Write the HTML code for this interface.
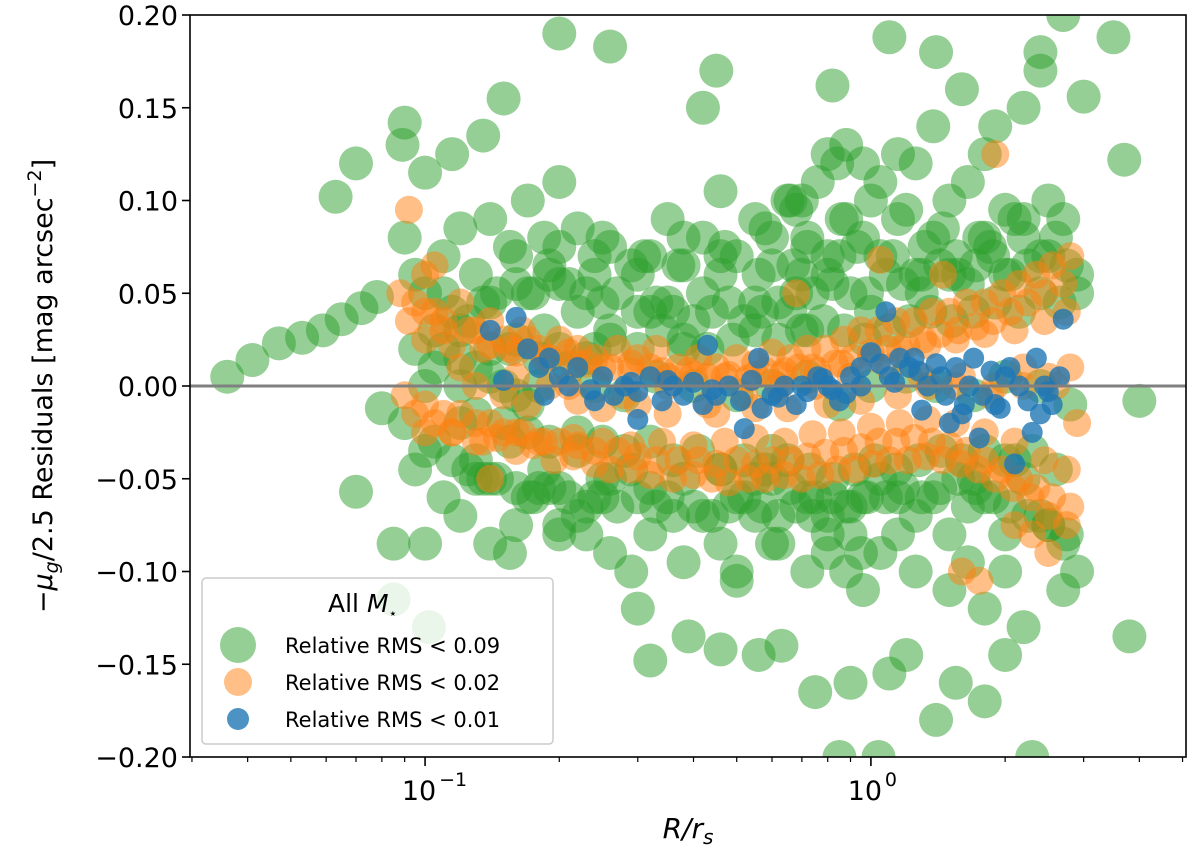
<!DOCTYPE html>
<html><head><meta charset="utf-8"><style>
body{margin:0;background:#fff;}
svg text{font-family:"DejaVu Sans","Liberation Sans",sans-serif;}
</style></head><body>
<svg id="chart" width="1200" height="856" viewBox="0 0 1200 856" xmlns="http://www.w3.org/2000/svg">
<defs><clipPath id="pc"><rect x="190" y="15" width="996" height="742"/></clipPath></defs>
<g id="marks" clip-path="url(#pc)"></g>
<g id="axes"></g>
</svg>
<script>
const greenR=[0.036,0.041,0.047,0.053,0.059,0.065,0.072,0.078,0.063,0.07,0.09,0.089,0.1,0.115,0.15,0.2,0.26,0.135,0.08,0.07,0.085,0.102,0.3,0.32,0.39,0.46,0.5,0.56,0.63,0.75,0.85,1.04,0.9,1.1,1.2,1.4,1.55,1.8,2.0,2.3,3.8,4.0,3.7,3.5,3.0,2.7,2.4,1.9,1.6,1.4,1.1,0.82,0.65,0.45,0.42,
0.09,0.09,0.1,0.1,0.1,0.11,0.11,0.11,0.12,0.12,0.12,0.12,0.13,0.13,0.13,0.14,0.14,0.14,0.14,0.155,0.155,0.155,0.155,0.17,0.17,0.17,0.17,0.185,0.185,0.185,0.2,0.2,0.2,0.2,0.22,0.22,0.22,0.22,0.24,0.24,0.24,0.26,0.26,0.26,0.26,0.29,0.29,0.29,0.32,0.32,0.32,0.32,0.35,0.35,0.35,0.38,0.38,0.38,0.38,0.42,0.42,0.42,0.46,0.46,0.46,0.46,0.5,0.5,0.5,0.55,0.55,0.55,0.55,0.6,0.6,0.6,0.6,0.66,0.66,0.66,0.72,0.72,0.72,0.72,0.8,0.8,0.8,0.8,0.88,0.88,0.88,0.88,0.96,0.96,0.96,0.96,1.05,1.05,1.05,1.05,1.15,1.15,1.15,1.15,1.26,1.26,1.26,1.26,1.38,1.38,1.38,1.5,1.5,1.5,1.5,1.65,1.65,1.65,1.65,1.8,1.8,1.8,1.8,2.0,2.0,2.0,2.0,2.2,2.2,2.2,2.2,2.4,2.4,2.4,2.7,2.7,2.7,2.9,2.9,2.9,0.75,0.85,0.95,1.3,1.0,0.7,2.5,2.1,1.7,0.6,0.25,0.18,
0.095,0.105,0.115,0.125,0.135,0.145,0.16,0.175,0.19,0.21,0.23,0.25,0.27,0.3,0.33,0.36,0.4,0.44,0.48,0.52,0.57,0.62,0.68,0.74,0.82,0.9,0.98,1.08,1.18,1.3,1.43,1.57,1.72,1.88,2.05,2.25,2.5,2.75,
0.095,0.105,0.115,0.125,0.135,0.145,0.16,0.175,0.19,0.21,0.23,0.25,0.27,0.3,0.33,0.36,0.4,0.44,0.48,0.52,0.57,0.62,0.68,0.74,0.82,0.9,0.98,1.08,1.18,1.3,1.43,1.57,1.72,1.88,2.05,2.25,2.5,2.75,
0.1,0.12,0.14,0.16,0.18,0.2,0.23,0.26,0.3,0.34,0.38,0.43,0.49,0.55,0.62,0.7,0.78,0.87,0.97,1.1,1.22,1.36,1.52,1.7,1.9,2.15,2.4,2.65,
0.11,0.13,0.15,0.17,0.19,0.22,0.25,0.28,0.32,0.36,0.41,0.46,0.52,0.58,0.65,0.73,0.82,0.92,1.02,1.14,1.28,1.44,1.6,1.8,2.0,2.3,2.6,
0.13,0.16,0.2,0.25,0.31,0.38,0.47,0.58,0.72,0.86,1.0,1.2,1.45,1.75,2.1,2.5,0.68,0.76,0.84,0.7,0.8,0.62,0.9,0.16,0.2,0.23,
0.085,0.095,0.105,0.12,0.14,0.16,0.18,0.21,0.24,0.28,0.33,0.4,0.5,0.6,0.72,0.85,1.0,1.2,1.4,1.7,2.0,2.4,2.8,
0.15,0.19,0.24,0.3,0.37,0.46,0.56,0.67,0.8,0.93,1.12,1.32,1.55,1.85,2.2,2.6];
const greenRes=[0.005,0.014,0.023,0.026,0.03,0.036,0.042,0.048,0.102,0.12,0.142,0.13,0.115,0.125,0.155,0.19,0.183,0.135,-0.012,-0.057,-0.115,-0.13,-0.12,-0.148,-0.135,-0.142,-0.105,-0.145,-0.14,-0.165,-0.2,-0.2,-0.16,-0.155,-0.145,-0.18,-0.16,-0.17,-0.145,-0.2,-0.135,-0.008,0.122,0.188,0.156,0.2,0.18,0.14,0.16,0.18,0.188,0.162,0.1,0.17,0.15,
0.08,-0.02,0.05,0.0,-0.035,0.07,0.02,-0.06,0.085,0.03,-0.02,-0.07,0.06,-0.04,0.01,0.09,0.045,-0.05,-0.085,0.075,0.02,-0.03,-0.09,0.1,0.05,-0.06,-0.01,0.08,-0.045,0.03,0.11,0.055,-0.055,-0.08,0.085,0.04,-0.035,-0.07,0.06,-0.06,0.02,0.075,-0.05,-0.09,0.03,0.065,-0.045,-0.1,0.07,0.04,-0.055,-0.08,0.09,-0.06,0.045,0.065,-0.05,-0.095,0.02,0.08,-0.07,0.05,0.105,0.06,-0.045,-0.085,0.07,-0.06,-0.1,0.09,0.045,-0.05,-0.07,0.065,-0.05,-0.085,0.08,0.1,-0.055,0.04,0.075,-0.06,-0.1,0.03,0.125,0.06,-0.07,-0.09,0.13,0.09,-0.065,-0.1,0.12,0.08,-0.06,-0.11,0.11,0.07,-0.05,-0.09,0.125,0.09,-0.06,-0.08,0.12,0.06,-0.07,-0.1,0.14,0.08,-0.06,0.1,0.06,-0.08,-0.11,0.11,0.055,-0.065,-0.095,0.125,0.08,-0.06,-0.12,0.095,0.06,-0.08,-0.1,0.15,0.09,-0.05,-0.13,0.17,0.07,-0.07,-0.11,0.09,-0.085,0.05,0.06,-0.1,-0.06,0.07,-0.09,0.05,0.04,0.06,-0.075,-0.04,-0.05,-0.035,-0.05,-0.055,-0.045,
0.03,0.04,0.035,0.045,0.05,0.055,0.05,0.06,0.055,0.05,0.045,0.05,0.04,0.045,0.04,0.035,0.04,0.045,0.035,0.04,0.045,0.05,0.05,0.055,0.05,0.05,0.06,0.055,0.06,0.065,0.06,0.065,0.07,0.06,0.065,0.07,0.065,0.06,
-0.03,-0.04,-0.045,-0.05,-0.05,-0.055,-0.06,-0.055,-0.06,-0.065,-0.06,-0.065,-0.06,-0.065,-0.07,-0.065,-0.07,-0.065,-0.06,-0.065,-0.07,-0.065,-0.07,-0.06,-0.065,-0.06,-0.06,-0.055,-0.06,-0.055,-0.05,-0.055,-0.06,-0.065,-0.07,-0.075,-0.08,-0.085,
0.015,0.02,0.025,0.015,0.02,0.015,0.025,0.02,0.03,0.025,0.02,0.025,0.03,0.025,0.03,0.035,0.03,0.025,0.03,0.035,0.04,0.035,0.04,0.045,0.04,0.05,0.045,0.05,
-0.015,-0.02,-0.025,-0.03,-0.025,-0.03,-0.035,-0.03,-0.04,-0.035,-0.045,-0.04,-0.045,-0.04,-0.045,-0.05,-0.045,-0.04,-0.045,-0.04,-0.035,-0.04,-0.035,-0.04,-0.035,-0.045,-0.05,
0.07,0.075,0.08,0.07,0.08,0.075,0.085,0.08,0.09,0.1,0.095,0.085,0.08,0.09,0.1,0.095,0.11,0.12,0.1,-0.08,-0.085,-0.08,-0.075,-0.075,-0.08,-0.085,
0.02,0.01,0.0,0.005,-0.005,0.0,0.01,0.0,-0.005,0.005,0.0,-0.005,0.0,0.005,-0.01,0.0,0.005,0.0,-0.005,0.005,0.0,-0.01,0.0,
0.065,0.07,0.06,0.065,0.07,0.06,0.065,0.07,0.075,0.07,0.075,0.07,0.075,0.08,0.08,0.075];
const orangeR=[0.088,0.095,0.1,0.105,0.11,0.12,0.13,0.14,0.15,0.165,0.18,0.2,0.22,0.24,0.27,0.3,0.33,0.37,0.41,0.45,0.5,0.55,0.6,0.66,0.72,0.79,0.87,0.95,1.04,1.14,1.25,1.37,1.5,1.64,1.8,1.97,2.15,2.35,2.55,2.8,
0.09,0.1,0.11,0.12,0.13,0.14,0.15,0.165,0.18,0.2,0.22,0.24,0.27,0.3,0.33,0.37,0.41,0.45,0.5,0.55,0.6,0.66,0.72,0.79,0.87,0.95,1.04,1.14,1.25,1.37,1.5,1.64,1.8,1.97,2.15,2.35,2.55,2.8,
0.12,0.16,0.21,0.28,0.35,0.43,0.52,0.62,0.75,0.9,1.1,1.3,1.55,1.85,2.2,2.6,0.092,0.105,1.9,1.05,2.3,2.5,1.6,1.75,2.1,0.14,2.9,1.45,0.68,
0.092,0.1,0.11,0.125,0.14,0.155,0.17,0.19,0.21,0.23,0.26,0.29,0.32,0.35,0.39,0.43,0.48,0.53,0.58,0.63,0.69,0.76,0.83,0.91,1.0,1.09,1.2,1.31,1.43,1.57,1.72,1.88,2.05,2.25,2.45,2.7,
0.095,0.105,0.115,0.13,0.145,0.16,0.175,0.195,0.215,0.24,0.26,0.29,0.32,0.36,0.4,0.44,0.48,0.53,0.58,0.64,0.7,0.77,0.84,0.92,1.01,1.1,1.21,1.33,1.45,1.59,1.74,1.9,2.08,2.28,2.5,2.75,
0.13,0.15,0.17,0.19,0.22,0.25,0.3,0.35,0.45,0.55,0.65,0.8,0.95,1.15,1.35,1.6,1.9,2.2,2.5,2.8,
0.1,0.115,0.135,0.16,0.185,0.215,0.25,0.29,0.34,0.4,0.47,0.55,0.64,0.74,0.86,1.0,1.16,1.34,1.55,1.8,2.1,2.45,2.75,
0.1,0.115,0.135,0.16,0.185,0.215,0.25,0.29,0.34,0.4,0.47,0.55,0.64,0.74,0.86,1.0,1.16,1.34,1.55,1.8,2.1,2.45,2.75];
const orangeRes=[0.05,0.045,0.06,0.04,0.035,0.045,0.03,0.035,0.025,0.03,0.02,0.025,0.02,0.015,0.02,0.015,0.02,0.01,0.015,0.01,0.015,0.012,0.018,0.015,0.02,0.02,0.025,0.03,0.03,0.035,0.035,0.04,0.04,0.045,0.045,0.05,0.055,0.06,0.065,0.07,
-0.005,-0.01,-0.015,-0.015,-0.02,-0.02,-0.025,-0.025,-0.03,-0.03,-0.032,-0.035,-0.035,-0.038,-0.04,-0.04,-0.04,-0.042,-0.04,-0.042,-0.04,-0.04,-0.038,-0.036,-0.035,-0.033,-0.03,-0.03,-0.028,-0.03,-0.032,-0.035,-0.04,-0.045,-0.05,-0.055,-0.06,-0.065,
0.01,0.005,0.0,-0.005,0.0,-0.01,-0.005,0.0,0.0,0.005,0.01,0.005,0.0,-0.005,0.01,0.0,0.095,0.065,0.125,0.068,-0.08,-0.09,-0.1,-0.105,-0.075,-0.05,-0.02,0.06,0.05,
0.035,0.04,0.03,0.03,0.022,0.02,0.025,0.015,0.018,0.012,0.01,0.008,0.01,0.005,0.008,0.005,0.006,0.004,0.008,0.006,0.01,0.008,0.012,0.015,0.018,0.02,0.022,0.025,0.028,0.03,0.032,0.035,0.04,0.045,0.05,0.055,
-0.015,-0.02,-0.025,-0.03,-0.028,-0.035,-0.032,-0.04,-0.038,-0.042,-0.045,-0.045,-0.048,-0.05,-0.048,-0.05,-0.052,-0.05,-0.05,-0.048,-0.05,-0.048,-0.045,-0.045,-0.042,-0.04,-0.04,-0.038,-0.04,-0.042,-0.045,-0.05,-0.055,-0.06,-0.07,-0.075,
0.0,-0.005,-0.01,0.0,-0.008,-0.012,-0.01,-0.015,-0.015,-0.012,-0.012,-0.01,-0.008,-0.005,0.0,0.005,0.0,0.0,0.005,0.01,
0.025,0.022,0.02,0.018,0.015,0.012,0.01,0.012,0.008,0.006,0.005,0.006,0.008,0.01,0.012,0.015,0.02,0.022,0.025,0.028,0.03,0.035,0.04,
-0.025,-0.025,-0.03,-0.025,-0.03,-0.028,-0.03,-0.032,-0.03,-0.032,-0.03,-0.028,-0.03,-0.026,-0.025,-0.022,-0.02,-0.018,-0.02,-0.025,-0.03,-0.04,-0.045];
const blueR=[0.14,0.15,0.16,0.17,0.18,0.19,0.2,0.21,0.22,0.235,0.25,0.265,0.28,0.3,0.32,0.34,0.36,0.38,0.4,0.42,0.45,0.48,0.51,0.54,0.57,0.6,0.64,0.68,0.72,0.76,0.8,0.85,0.9,0.95,1.0,1.05,1.1,1.16,1.22,1.28,1.34,1.4,1.47,1.55,1.62,1.7,1.78,1.86,1.95,2.05,2.15,2.25,2.35,2.45,2.55,2.65,
0.43,0.56,0.82,1.08,1.5,1.6,1.75,2.1,2.3,2.7,0.52,0.95,1.3,1.9,2.4,0.3,0.7,
0.185,0.24,0.29,0.35,0.44,0.62,0.78,0.88,1.13,1.25,1.44,1.66,2.0,2.5];
const blueRes=[0.03,0.003,0.037,0.02,0.01,0.015,0.005,0.0,0.01,-0.002,0.005,-0.005,0.0,-0.003,0.005,-0.008,0.0,-0.005,0.002,-0.01,-0.005,0.0,-0.008,0.003,-0.012,-0.005,0.0,-0.01,-0.003,0.005,0.0,-0.008,0.005,0.01,0.018,0.012,0.005,0.015,0.01,0.008,0.0,0.012,-0.005,0.01,-0.01,0.015,-0.005,0.008,-0.012,0.01,0.0,-0.008,0.015,0.0,-0.01,0.005,
0.022,0.015,-0.002,0.04,-0.02,-0.015,-0.028,-0.042,-0.025,0.036,-0.023,0.0,-0.013,-0.01,-0.015,-0.018,0.0,
-0.005,-0.008,0.002,0.003,-0.002,-0.006,0.004,-0.004,0.002,0.015,0.005,0.0,0.005,-0.003];
const xTicks=[0.1,1];
const xTickLabels=["10","10"];
const yTicks=[-0.2,-0.15,-0.1,-0.05,0,0.05,0.1,0.15,0.2];
const yTickLabels=["\u22120.20","\u22120.15","\u22120.10","\u22120.05","0.00","0.05","0.10","0.15","0.20"];

const NS="http://www.w3.org/2000/svg";
const L=190,R=1186,T=15,B=757;
const xmin=Math.log10(0.0297),xmax=Math.log10(5.09);
function xs(v){return L+(Math.log10(v)-xmin)/(xmax-xmin)*(R-L);}
function ys(v){return B-(v+0.2)/0.4*(B-T);}
function mk(tag,attrs,parent){const e=document.createElementNS(NS,tag);for(const k in attrs)e.setAttribute(k,attrs[k]);parent.appendChild(e);return e;}
const marks=document.getElementById('marks');
const axes=document.getElementById('axes');
function series(xa,ya,r,color,op,name){
  const g=mk('g',{},marks);
  
  
  for(let i=0;i<xa.length;i++){
    const c=mk('circle',{cx:xs(xa[i]),cy:ys(ya[i]),r:r,fill:color,'fill-opacity':op},g);
    
    
  }
}
series(greenR,greenRes,17,'#2ca02c',0.5,'green');
series(orangeR,orangeRes,14,'#ff7f0e',0.5,'orange');
series(blueR,blueRes,10.5,'#1f77b4',0.8,'blue');
const zl=mk('line',{x1:L,x2:R,y1:ys(0),y2:ys(0),stroke:'#808080','stroke-width':3},marks);


const frame=mk('rect',{x:L,y:T,width:R-L,height:B-T,fill:'none',stroke:'#000','stroke-width':1.6},axes);


yTicks.forEach((v,i)=>{
  const y=ys(v);
  const t=mk('line',{x1:L-8,x2:L,y1:y,y2:y,stroke:'#000','stroke-width':1.6},axes);
  
  
  const tx=mk('text',{x:L-12,y:y+10,'text-anchor':'end','font-size':27},axes);
  tx.textContent=yTickLabels[i];
  
  
});
for(let d=-2;d<=0;d++){for(let m=2;m<=9;m++){const v=m*Math.pow(10,d);if(v<0.0297||v>5.09)continue;
  const t=mk('line',{x1:xs(v),x2:xs(v),y1:B,y2:B+5,stroke:'#000','stroke-width':1.2},axes);
  
  }}
xTicks.forEach((v,i)=>{
  const x=xs(v);
  const t=mk('line',{x1:x,x2:x,y1:B,y2:B+9,stroke:'#000','stroke-width':1.6},axes);
  
  
  const tx=mk('text',{x:x-6,y:B+43,'text-anchor':'middle','font-size':27},axes);
  tx.textContent=xTickLabels[i];
  
  
  const ex=mk('text',{x:x+14,y:B+29,'font-size':19},axes);
  ex.textContent=Math.round(Math.log10(v))===0?"0":"\u22121";
  
  
});
</script>
<svg width="1200" height="856" style="position:absolute;left:0;top:0">
<text x="688" y="838" text-anchor="middle" font-size="28" font-style="italic">R/r<tspan font-size="20" dy="6">s</tspan></text>
<text transform="translate(52,386) rotate(-90)" text-anchor="middle" font-size="27">−<tspan font-style="italic">μ</tspan><tspan font-size="19" dy="6" font-style="italic">g</tspan><tspan dy="-6">/2.5 Residuals [mag arcsec</tspan><tspan font-size="19" dy="-11">−2</tspan><tspan dy="11">]</tspan></text>
<g>
<rect x="202" y="578" width="351" height="166" rx="4" fill="#fff" fill-opacity="0.8" stroke="#ccc" stroke-width="1.5"/>
<text x="328" y="612" font-size="25">All <tspan font-style="italic">M</tspan><tspan font-size="14" dy="6">⋆</tspan></text>
<circle cx="238" cy="645" r="18" fill="#2ca02c" fill-opacity="0.5"/>
<text x="285" y="653" font-size="21">Relative RMS &lt; 0.09</text>
<circle cx="238" cy="682" r="14" fill="#ff7f0e" fill-opacity="0.5"/>
<text x="285" y="690" font-size="21">Relative RMS &lt; 0.02</text>
<circle cx="238" cy="719" r="11" fill="#1f77b4" fill-opacity="0.8"/>
<text x="285" y="727" font-size="21">Relative RMS &lt; 0.01</text>
</g>
</svg>
</body></html>
